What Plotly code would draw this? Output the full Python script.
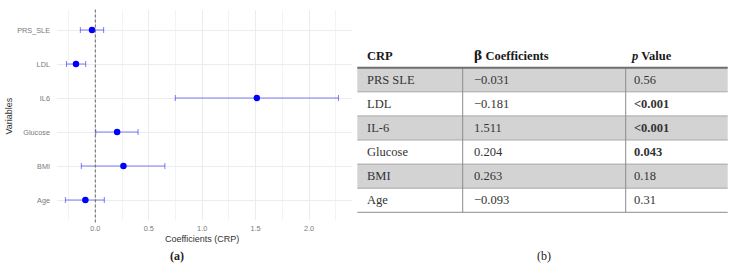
import plotly.graph_objects as go

# ---------------- data ----------------
variables = ["Age", "BMI", "Glucose", "IL6", "LDL", "PRS_SLE"]          # bottom -> top
coef = [-0.093, 0.263, 0.204, 1.511, -0.181, -0.031]
ci_low = [-0.28, -0.131, 0.004, 0.748, -0.27, -0.14]
ci_high = [0.084, 0.651, 0.40, 2.275, -0.09, 0.078]

x_ticks = [0.0, 0.5, 1.0, 1.5, 2.0]
x_tick_labels = ["0.0", "0.5", "1.0", "1.5", "2.0"]

table_header = ["CRP",
                "<span style=\"font-family:'DejaVu Serif'\">β</span> "
                "<span style=\"font-family:'Liberation Serif'\">Coefficients</span>",
                "<i>p</i> Value"]
table_names = ["PRS SLE", "LDL", "IL-6", "Glucose", "BMI", "Age"]
table_beta = ["−0.031", "−0.181", "1.511", "0.204", "0.263", "−0.093"]
table_p = ["0.56", "<0.001", "<0.001", "0.043", "0.18", "0.31"]
table_p_bold = [False, True, True, True, False, False]

# ---------------- layout helpers ----------------
W, H = 733, 268
def px(x):
    return x / W
def py(y):
    return 1 - y / H

fig = go.Figure()

ypos = list(range(1, len(variables) + 1))
fig.add_trace(go.Scatter(
    x=coef, y=ypos, mode="markers",
    marker=dict(color="#0000ff", size=6.5),
    error_x=dict(type="data", symmetric=False,
                 array=[h - c for h, c in zip(ci_high, coef)],
                 arrayminus=[c - l for c, l in zip(coef, ci_low)],
                 color="rgba(40,40,240,0.6)", thickness=1, width=3),
    showlegend=False, hoverinfo="skip",
))

fig.update_layout(
    width=W, height=H, margin=dict(l=0, r=0, t=0, b=0),
    paper_bgcolor="white", plot_bgcolor="white",
    font=dict(family="Liberation Sans, Arial, sans-serif"),
    xaxis=dict(domain=[px(57), px(352)], range=[-0.3585, 2.402],
               tickvals=x_ticks, ticktext=x_tick_labels,
               tickfont=dict(size=7.3, color="#7a7a7a"),
               showgrid=True, gridcolor="#ececec", gridwidth=1,
               minor=dict(dtick=0.25, tick0=0, showgrid=True, gridcolor="#f3f3f3", gridwidth=1),
               zeroline=False, showline=False, ticks="", ticklabelstandoff=2),
    yaxis=dict(domain=[py(220.4), py(9.6)], range=[0.4, 6.6],
               tickvals=ypos, ticktext=variables,
               tickfont=dict(size=7.3, color="#7a7a7a"),
               showgrid=True, gridcolor="#ececec", gridwidth=1,
               zeroline=False, showline=False, ticks="", ticklabelstandoff=6),
)

# zero reference line
fig.add_shape(type="line", xref="x", yref="y domain", x0=0, x1=0, y0=-0.01, y1=1.01,
              line=dict(color="#666666", width=1, dash="3px,2px"))

# axis titles and captions
fig.add_annotation(text="Coefficients (CRP)", x=px(202), y=py(238.5), xref="paper", yref="paper",
                   showarrow=False, font=dict(size=9, color="#333333"), xanchor="center", yanchor="middle")
fig.add_annotation(text="Variables", x=px(8.5), y=py(116), xref="paper", yref="paper", textangle=-90,
                   showarrow=False, font=dict(size=9, color="#333333"), xanchor="center", yanchor="middle")
fig.add_annotation(text="<b>(a)</b>", x=px(177), y=py(255.5), xref="paper", yref="paper",
                   showarrow=False, font=dict(size=12, color="#222222", family="Liberation Serif, serif"),
                   xanchor="center", yanchor="middle")
fig.add_annotation(text="(b)", x=px(544), y=py(255.5), xref="paper", yref="paper",
                   showarrow=False, font=dict(size=12, color="#222222", family="Liberation Serif, serif"),
                   xanchor="center", yanchor="middle")

# ---------------- table ----------------
T_LEFT, T_RIGHT = 357.3, 727.7
COL_DIV = [462.7, 625.7]
TEXT_X = [365, 471.5, 632]
HEADER_Y = 55.5
ROW_TOP = 67.7
ROW_H = 24.1
serif = "Liberation Serif, Times New Roman, serif"
FS = 12.5

for j, h in enumerate(table_header):
    fig.add_annotation(text="<b>" + h + "</b>", x=px(TEXT_X[j] - (3 if j == 2 else 0)), y=py(HEADER_Y),
                       xref="paper", yref="paper", showarrow=False, xanchor="left", yanchor="middle",
                       font=dict(size=FS, color="#1a1a1a", family=serif))

n = len(table_names)
for i in range(n):
    top = ROW_TOP + i * ROW_H
    bot = top + ROW_H
    if i % 2 == 0:
        fig.add_shape(type="rect", xref="paper", yref="paper", x0=px(T_LEFT), x1=px(T_RIGHT),
                      y0=py(bot), y1=py(top), fillcolor="#d3d3d3", line=dict(width=0), layer="below")
    if i < n - 1:
        fig.add_shape(type="line", xref="paper", yref="paper", x0=px(T_LEFT), x1=px(T_RIGHT),
                      y0=py(bot), y1=py(bot), line=dict(color="#a8a8a8", width=1))
    cy = (top + bot) / 2
    vals = [table_names[i], table_beta[i],
            ("<b>" + table_p[i].replace("<", "&lt;") + "</b>") if table_p_bold[i] else table_p[i].replace("<", "&lt;")]
    for j, v in enumerate(vals):
        fig.add_annotation(text=v, x=px(TEXT_X[j]), y=py(cy), xref="paper", yref="paper",
                           showarrow=False, xanchor="left", yanchor="middle",
                           font=dict(size=FS, color="#333333", family=serif))

table_bottom = ROW_TOP + n * ROW_H
# column dividers
for xd in COL_DIV:
    fig.add_shape(type="line", xref="paper", yref="paper", x0=px(xd), x1=px(xd),
                  y0=py(table_bottom), y1=py(ROW_TOP), line=dict(color="#8c8c8c", width=1))
# header rule and bottom rule
fig.add_shape(type="line", xref="paper", yref="paper", x0=px(T_LEFT), x1=px(T_RIGHT),
              y0=py(ROW_TOP), y1=py(ROW_TOP), line=dict(color="#6e6e6e", width=2))
fig.add_shape(type="line", xref="paper", yref="paper", x0=px(T_LEFT), x1=px(T_RIGHT),
              y0=py(table_bottom), y1=py(table_bottom), line=dict(color="#8c8c8c", width=1))

fig.write_html("out.html")
